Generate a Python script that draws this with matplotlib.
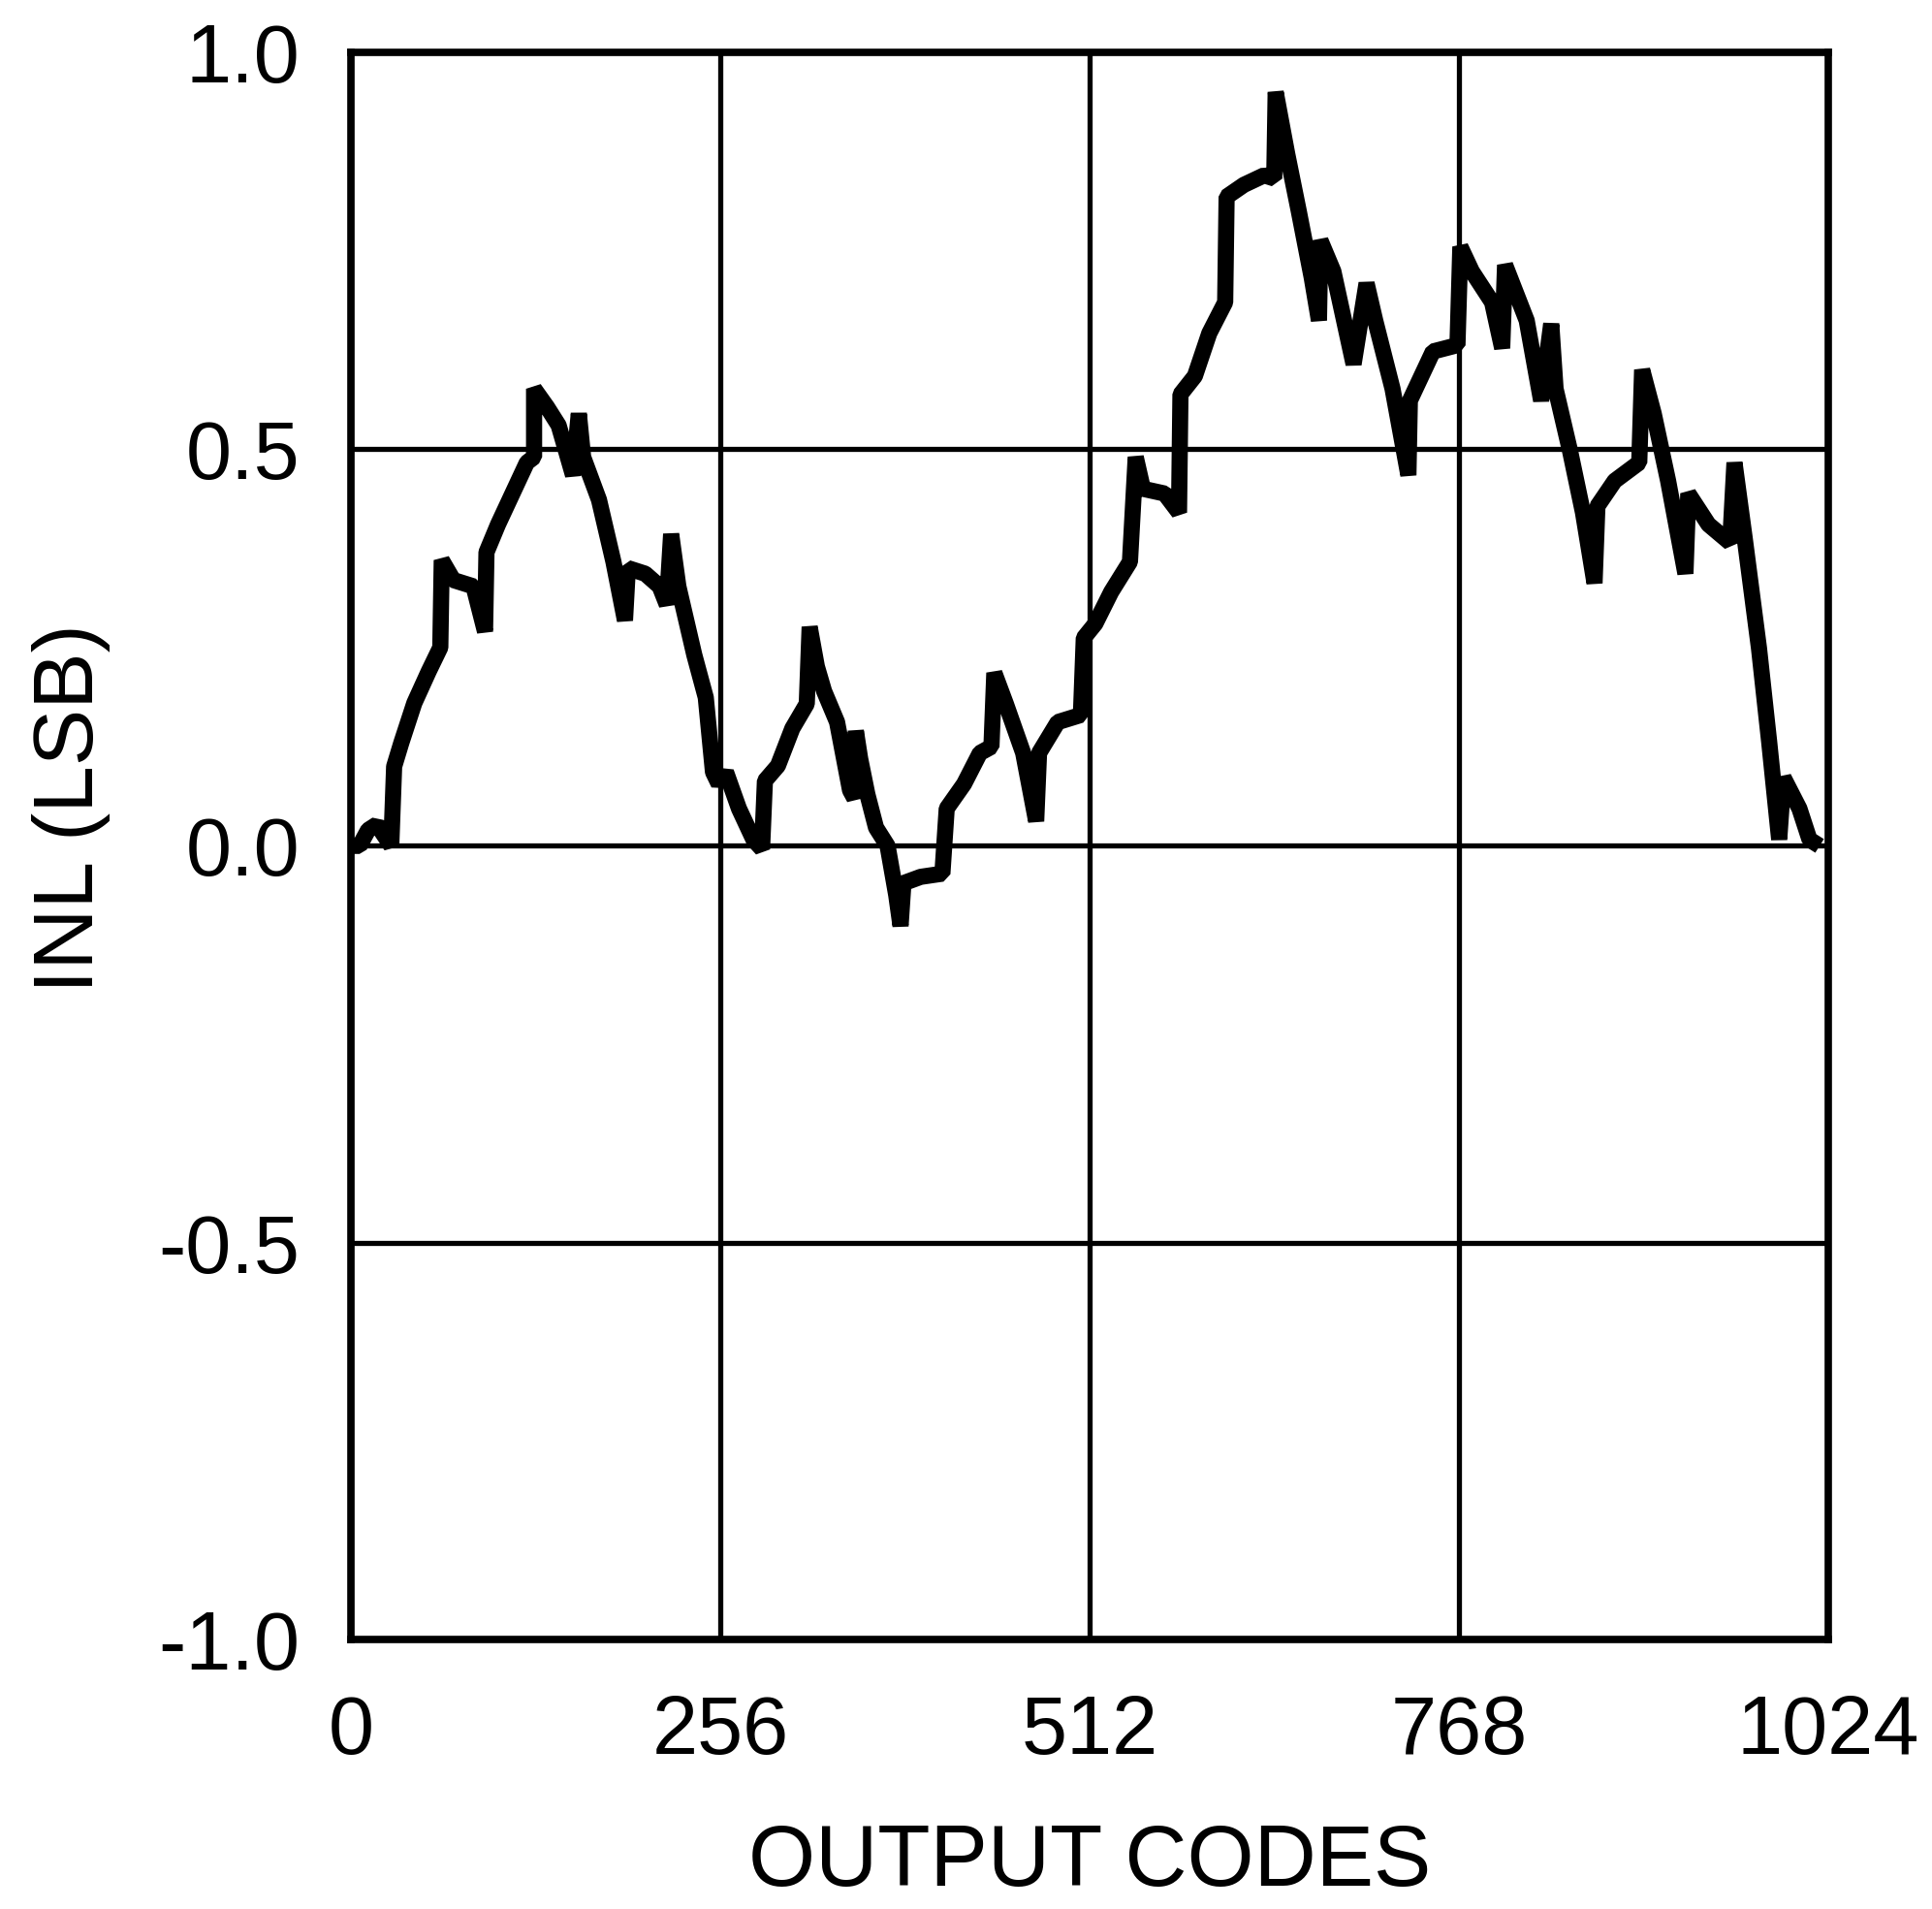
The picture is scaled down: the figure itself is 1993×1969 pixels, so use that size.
import matplotlib
matplotlib.use("Agg")
import matplotlib.pyplot as plt

codes = [0, 6, 12, 18, 28, 30, 35, 44, 54, 62, 63, 71, 85, 93, 94, 102, 112, 122, 127, 127,
         136, 144, 154, 158, 161, 172, 182, 190, 192, 204, 214, 219, 222, 227, 238, 246, 251,
         255, 260, 269, 279, 285, 287, 296, 306, 316, 318, 323, 328, 337, 346, 349, 350, 353,
         358, 364, 372, 378, 381, 383, 395, 410, 413, 425, 436, 444, 446, 454, 466, 475, 477,
         490, 506, 508, 516, 527, 540, 544, 549, 564, 574, 575, 585, 595, 606, 607, 619, 633,
         640, 641, 649, 657, 666, 671, 672, 681, 695, 704, 710, 722, 733, 734, 750, 767, 769,
         777, 791, 798, 800, 815, 825, 832, 835, 845, 854, 862, 864, 876, 893, 895, 903, 913,
         925, 927, 941, 956, 959, 966, 976, 983, 990, 993, 1004, 1011, 1018]
inl = [0.0, 0.0, 0.02, 0.027, 0.0, 0.10, 0.13, 0.18, 0.22, 0.25, 0.36, 0.335, 0.327, 0.27,
       0.37, 0.405, 0.444, 0.483, 0.49, 0.576, 0.553, 0.53, 0.467, 0.545, 0.49, 0.436, 0.358,
       0.284, 0.35, 0.343, 0.327, 0.304, 0.393, 0.327, 0.241, 0.187, 0.093, 0.078, 0.093,
       0.047, 0.008, -0.004, 0.082, 0.101, 0.148, 0.179, 0.276, 0.226, 0.195, 0.156, 0.07,
       0.06, 0.145, 0.11, 0.065, 0.023, 0.0, -0.062, -0.101, -0.047, -0.039, -0.035, 0.047,
       0.078, 0.117, 0.125, 0.218, 0.179, 0.117, 0.031, 0.117, 0.156, 0.165, 0.262, 0.28,
       0.32, 0.358, 0.49, 0.45, 0.444, 0.42, 0.569, 0.592, 0.646, 0.685, 0.818, 0.833, 0.845,
       0.841, 0.95, 0.872, 0.80, 0.716, 0.662, 0.763, 0.724, 0.607, 0.709, 0.662, 0.576,
       0.467, 0.561, 0.623, 0.631, 0.755, 0.724, 0.685, 0.627, 0.732, 0.662, 0.561, 0.658,
       0.576, 0.498, 0.42, 0.331, 0.428, 0.46, 0.483, 0.60, 0.545, 0.46, 0.343, 0.444, 0.405,
       0.382, 0.483, 0.389, 0.249, 0.132, 0.008, 0.086, 0.047, 0.008, 0.0]

xticks = [0, 256, 512, 768, 1024]
xtick_labels = ["0", "256", "512", "768", "1024"]
yticks = [-1.0, -0.5, 0.0, 0.5, 1.0]
ytick_labels = ["-1.0", "-0.5", "0.0", "0.5", "1.0"]

plt.rcParams['font.family'] = ['Liberation Sans', 'DejaVu Sans']

fig = plt.figure(figsize=(19.93, 19.69), dpi=100)
ax = fig.add_axes([0.1816, 0.1412, 0.9463 - 0.1816, 0.9726 - 0.1412])

ax.plot(codes, inl, color='black', linewidth=12, solid_joinstyle='bevel',
        solid_capstyle='butt', zorder=3)

ax.set_xlim(0, 1024)
ax.set_ylim(-1.0, 1.0)
ax.set_xticks(xticks)
ax.set_xticklabels(xtick_labels)
ax.set_yticks(yticks)
ax.set_yticklabels(ytick_labels)
ax.tick_params(axis='both', length=0, labelsize=61)
ax.tick_params(axis='x', pad=40)
ax.tick_params(axis='y', pad=38)
ax.grid(True, color='black', linewidth=3.8)
for s in ax.spines.values():
    s.set_linewidth(5.5)
    s.set_color('black')

ax.set_xlabel("OUTPUT CODES", fontsize=64, va='center')
ax.xaxis.set_label_coords(0.5, (1691 - 1922) / 1637)
ax.set_ylabel("INL (LSB)", fontsize=63, va='center')
ax.yaxis.set_label_coords((74 - 362) / 1524, (1691 - 834) / 1637)

fig.savefig("out.png", dpi=100)
